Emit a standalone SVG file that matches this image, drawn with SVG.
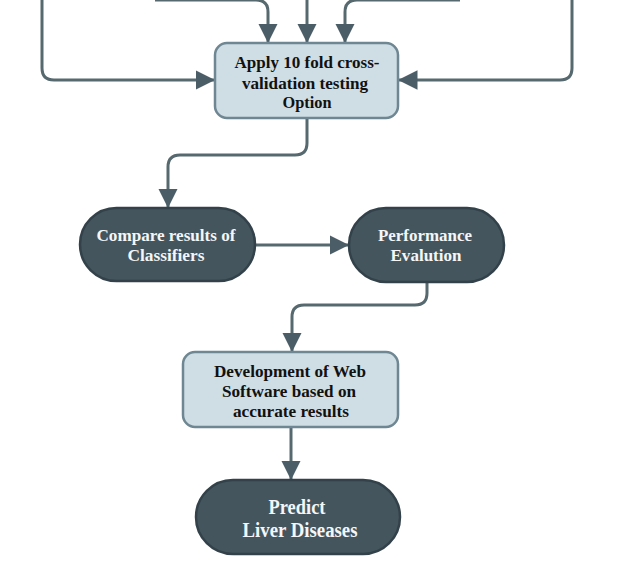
<svg xmlns="http://www.w3.org/2000/svg" width="630" height="587" viewBox="0 0 630 587">
<defs>
<marker id="ah" viewBox="0 0 10 10" refX="10" refY="5" markerWidth="6.5" markerHeight="6.5" markerUnits="strokeWidth" orient="auto">
<path d="M0,0 L10,5 L0,10 z" fill="#4b5e68"/>
</marker>
<style>
.c{fill:none;stroke:#56696f;stroke-width:3;marker-end:url(#ah)}
.lb{fill:#cfdde4;stroke:#6e8792;stroke-width:2.5}
.dk{fill:#44555e;stroke:#33424a;stroke-width:2.5}
.t{font-family:"Liberation Serif",serif;font-weight:bold;font-size:17px;text-anchor:middle}
.tl{fill:#111}
.tw{fill:#f4f6f7}
.big{font-size:20px}
</style>
</defs>
<rect width="630" height="587" fill="#ffffff"/>
<g id="connectors">
<path class="c" d="M155,0 H256 Q268,0 268,12 V43"/>
<path class="c" d="M307,0 V43"/>
<path class="c" d="M460,0 H357 Q345,0 345,12 V43"/>
<path class="c" d="M42,0 V68 Q42,80 54,80 H215"/>
<path class="c" d="M572,0 V68 Q572,80 560,80 H398"/>
<path class="c" d="M307,118 V143 Q307,155 295,155 H180 Q168,155 168,167 V208"/>
<path class="c" d="M255,245 H349"/>
<path class="c" d="M427,282 V293 Q427,305 415,305 H304 Q292,305 292,317 V352"/>
<path class="c" d="M291,427 V480"/>
</g>
<g id="apply">
<rect class="lb" x="215" y="43" width="183" height="75" rx="12"/>
<text class="t tl" x="307" y="68" textLength="145" lengthAdjust="spacingAndGlyphs">Apply 10 fold cross-</text>
<text class="t tl" x="305" y="89" textLength="126" lengthAdjust="spacingAndGlyphs">validation testing</text>
<text class="t tl" x="307" y="108" textLength="49" lengthAdjust="spacingAndGlyphs">Option</text>
</g>
<g id="compare">
<rect class="dk" x="80" y="208" width="175" height="73" rx="36.5"/>
<text class="t tw" x="166" y="241" textLength="139" lengthAdjust="spacingAndGlyphs">Compare results of</text>
<text class="t tw" x="166" y="261" textLength="77" lengthAdjust="spacingAndGlyphs">Classifiers</text>
</g>
<g id="performance">
<rect class="dk" x="349" y="208" width="155" height="74" rx="37"/>
<text class="t tw" x="425" y="241" textLength="94" lengthAdjust="spacingAndGlyphs">Performance</text>
<text class="t tw" x="426" y="261" textLength="71" lengthAdjust="spacingAndGlyphs">Evalution</text>
</g>
<g id="development">
<rect class="lb" x="183" y="352" width="215" height="75" rx="12"/>
<text class="t tl" x="290" y="377" textLength="152" lengthAdjust="spacingAndGlyphs">Development of Web</text>
<text class="t tl" x="289" y="397" textLength="134" lengthAdjust="spacingAndGlyphs">Software based on</text>
<text class="t tl" x="291" y="417" textLength="116" lengthAdjust="spacingAndGlyphs">accurate results</text>
</g>
<g id="predict">
<rect class="dk" x="196" y="480" width="204" height="74" rx="37"/>
<text class="t tw big" x="297" y="514" textLength="57" lengthAdjust="spacingAndGlyphs">Predict</text>
<text class="t tw big" x="300" y="537" textLength="115" lengthAdjust="spacingAndGlyphs">Liver Diseases</text>
</g>
</svg>
